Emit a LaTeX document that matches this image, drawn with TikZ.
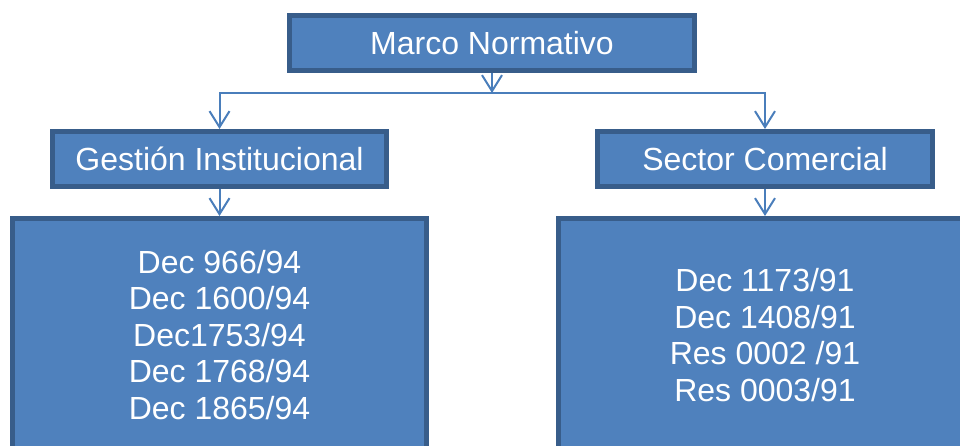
\documentclass[tikz,border=0pt]{standalone}
\usepackage{fontspec}
\setmainfont{Liberation Sans}
\usetikzlibrary{shapes,arrows.meta,positioning,calc}
\definecolor{boxblue}{RGB}{79,129,189}
\definecolor{edgeblue}{RGB}{56,93,138}
\definecolor{lineblue}{RGB}{74,126,187}

\begin{document}
\begin{tikzpicture}[x=1pt, y=-1pt,
    normbox/.style={draw=edgeblue, line width=5pt, fill=boxblue, text=white, inner sep=0pt,
      align=center, font=\fontsize{32}{36.5}\selectfont},
    conn/.style={-{Straight Barb[length=16pt,width=20pt]}, line width=2pt, lineblue}]
  \useasboundingbox (0,0) rectangle (960,445);
  \clip (0,0) rectangle (960,445);
  \node[normbox, minimum width=405pt, minimum height=55pt] (marco) at (492,43) {Marco Normativo};
  \node[normbox, minimum width=334pt, minimum height=55pt] (gestion) at (219.5,159) {Gestión Institucional};
  \node[normbox, minimum width=335pt, minimum height=55pt] (sector) at (765,159) {Sector Comercial};
  \node[normbox, minimum width=414pt, minimum height=233pt] (decgestion) at (219.5,335)
    {Dec 966/94\\Dec 1600/94\\Dec1753/94\\Dec 1768/94\\Dec 1865/94};
  \node[normbox, minimum width=414pt, minimum height=233pt] (decsector) at (765,335)
    {Dec 1173/91\\Dec 1408/91\\Res 0002 /91\\Res 0003/91};
  \coordinate (split) at (492,93);
  \draw[conn] (marco) -- (split);
  \draw[conn] (split) -| (gestion);
  \draw[conn] (split) -| (sector);
  \draw[conn] (gestion) -- (decgestion);
  \draw[conn] (sector) -- (decsector);
\end{tikzpicture}
\end{document}
